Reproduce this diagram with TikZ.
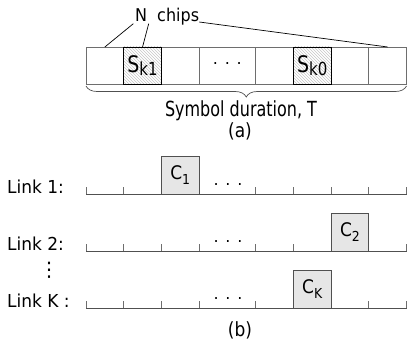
\documentclass[tikz,border=0pt]{standalone}
\usepackage{fontspec}
\setmainfont{DejaVu Sans}
\usetikzlibrary{patterns,decorations.pathreplacing}

\definecolor{cellgray}{HTML}{6E6E6E}
\definecolor{axisgray}{HTML}{505050}
\definecolor{codefill}{HTML}{E6E6E6}

\newcommand{\tallt}[2][1.25]{\scalebox{1}[#1]{#2}}
\newcommand{\chipsub}[1]{\raisebox{-2pt}{\fontsize{15}{15}\selectfont #1}}
\newcommand{\codesub}[1]{\raisebox{-5pt}{\fontsize{12.5}{12.5}\selectfont #1}}

\tikzset{
  cell/.style={draw=cellgray,line width=0.8pt,minimum width=37.7pt,minimum height=37pt,
               inner sep=0pt,outer sep=0pt},
  hatched/.style={cell,draw=black,pattern=north west lines,pattern color=gray!45,
                  font=\fontsize{19}{19}\selectfont},
  codebox/.style={draw=axisgray,line width=0.8pt,fill=codefill,minimum width=37.7pt,
                  minimum height=38pt,inner sep=0pt,outer sep=0pt,font=\fontsize{17}{17}\selectfont},
  txt/.style={inner sep=0pt,font=\fontsize{16}{18}\selectfont},
  linktxt/.style={inner sep=0pt,anchor=base west,font=\fontsize{17}{19}\selectfont},
  dotstxt/.style={inner sep=0pt,anchor=base,font=\fontsize{16}{18}\selectfont}
}

\begin{document}
\begin{tikzpicture}[x=1pt,y=-1pt]
\useasboundingbox (0,0) rectangle (407,345);

% (a) one symbol made of N chips
\node[cell] (c1) at (104.85,65.5) {};
\node[cell] (c3) at (180.25,65.5) {};
\node[cell,minimum width=56.6pt] (c4) at (227.4,65.5) {};
\node[cell] (c5) at (274.55,65.5) {};
\node[cell] (c7) at (349.95,65.5) {};
\node[cell] (c8) at (387.65,65.5) {};
\node[hatched] (c2) at (142.55,65.5) {\tallt[1.2]{S\chipsub{k1}}};
\node[hatched] (c6) at (312.25,65.5) {\tallt[1.2]{S\chipsub{k0}}};
\node[dotstxt,anchor=center] (cdots) at (227.4,63.5) {. . .};

\node[txt,anchor=base,inner sep=1.5pt] (nlet) at (141,22) {\tallt[1.1]{N}};
\node[txt,anchor=base west,inner sep=0pt] (chips) at (157,22) {\tallt[1.1]{chips}};
\draw[line width=0.7pt] (nlet.south west) -- (c1.north);
\draw[line width=0.7pt] (nlet.south east) -- (c2.north);
\draw[line width=0.7pt] (chips.base east) -- (c8.north);

\draw[axisgray,line width=0.7pt,decorate,decoration={brace,mirror,amplitude=11pt}]
    ([yshift=-2pt]c1.south west) -- ([yshift=-2pt]c8.south east);
\node[txt,anchor=base] (dur) at (241,117) {\tallt[1.3]{Symbol duration, T}};
\node[txt,anchor=base,font=\fontsize{17}{19}\selectfont] (capa) at (240,137) {\tallt[1.15]{(a)}};

% (b) code positions on the K links
\foreach \y in {194,251,308} {
  \draw[axisgray,line width=0.8pt] (86,\y) -- (406.5,\y);
  \foreach \x in {86,123.7,161.4,199.1,255.7,293.4,331.1,368.8,406.5}
    \draw[cellgray,line width=0.8pt] (\x,\y) -- (\x,\y-7);
  \node[dotstxt] at (228,\y-9) {. . .};
}

\node[linktxt] (link1) at (7,193) {\tallt[1.05]{Link 1:}};
\node[linktxt] (link2) at (7,250) {\tallt[1.05]{Link 2:}};
\node[txt,font=\fontsize{20}{20}\selectfont] (vdots) at (49,270) {⋮};
\node[linktxt] (linkk) at (7,307) {\tallt[1.05]{Link K :}};

\node[codebox] (cone) at (180.25,175) {\tallt[1.1]{C\codesub{1}}};
\node[codebox] (ctwo) at (349.95,232) {\tallt[1.1]{C\codesub{2}}};
\node[codebox] (ck) at (312.25,289) {\tallt[1.1]{C\codesub{K}}};

\node[txt,anchor=base,font=\fontsize{17}{19}\selectfont] (capb) at (240,336) {\tallt[1.15]{(b)}};
\end{tikzpicture}
\end{document}
